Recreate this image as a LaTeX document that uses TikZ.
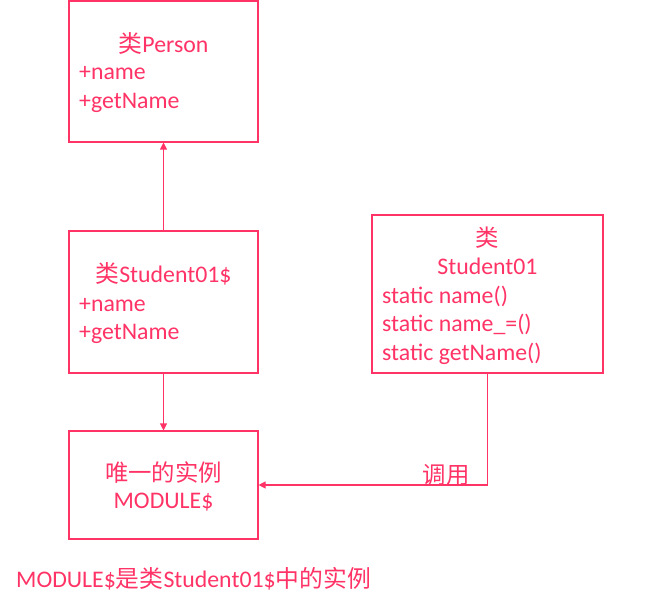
\documentclass[tikz,border=0pt]{standalone}
\usepackage{fontspec}
\setmainfont{Carlito}
\newfontfamily\cjk{Noto Sans CJK SC}
\usetikzlibrary{arrows.meta}
\definecolor{pk}{RGB}{255,51,102}
\begin{document}
\begin{tikzpicture}[x=1pt,y=-1pt,
  box/.style={draw=pk, line width=1.1pt, inner sep=0pt, minimum width=189pt},
  txt/.style={text=pk, font=\fontsize{23.8}{29}\selectfont, inner sep=0pt},
  cj/.style={text=pk, font=\fontsize{23.4}{29}\selectfont\cjk, inner sep=0pt},
  arr/.style={draw=pk, line width=1.1pt, -{Triangle[length=7pt,width=7pt]}}]
\useasboundingbox (0,0) rectangle (649,607);
% boxes
\node[box, minimum height=141pt] (b1) at (163.5,71.5) {};
\node[box, minimum height=142pt] (b2) at (163.5,302) {};
\node[box, minimum width=231pt, minimum height=158pt] (b3) at (487.5,294) {};
\node[box, minimum height=108pt] (b4) at (163.5,485) {};
% box 1 text
\node[txt, anchor=base] (t1a) at (163.5,52.5) {{\cjk 类}Person};
\node[txt, anchor=base west] (t1b) at (79,79.5) {+name};
\node[txt, anchor=base west] (t1c) at (79,108.5) {+getName};
% box 2 text
\node[txt, anchor=base] (t2a) at (163.5,282.5) {{\cjk 类}Student01\$};
\node[txt, anchor=base west] (t2b) at (79,311.5) {+name};
\node[txt, anchor=base west] (t2c) at (79,339.5) {+getName};
% box 3 text
\node[cj, anchor=base] (t3a) at (487.5,246.5) {类};
\node[txt, anchor=base] (t3b) at (487.5,274.5) {Student01};
\node[txt, anchor=base west] (t3c) at (382,303.5) {static name()};
\node[txt, anchor=base west] (t3d) at (382,331.5) {static name\_=()};
\node[txt, anchor=base west] (t3e) at (382,360.5) {static getName()};
% box 4 text
\node[cj, anchor=base] (t4a) at (163.5,481.5) {唯一的实例};
\node[txt, anchor=base] (t4b) at (163.5,508.5) {MODULE\$};
% connectors
\draw[arr] (b2.north) -- (b1.south);
\draw[arr] (b2.south) -- (b4.north);
\draw[arr] (b3.south) |- (b4.east);
\node[cj, anchor=base] (lbl) at (446,483) {调用};
% caption
\node[txt, anchor=base west] (cap) at (16,587) {MODULE\${\cjk 是类}Student01\${\cjk 中的实例}};
\end{tikzpicture}
\end{document}
